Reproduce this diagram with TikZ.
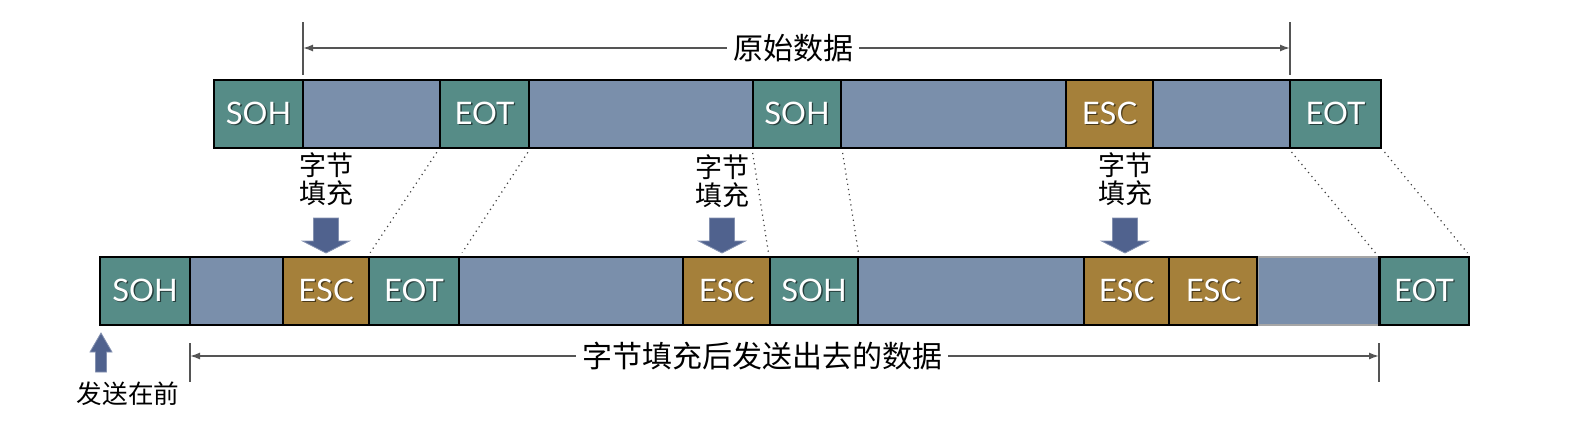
\documentclass[tikz,border=0pt]{standalone}
\usepackage{fontspec}
\setmainfont{Lato}
\newfontfamily\cjk{Noto Sans CJK SC}
\usetikzlibrary{arrows.meta}
\definecolor{cteal}{RGB}{86,140,135}
\definecolor{cdata}{RGB}{122,143,171}
\definecolor{cesc}{RGB}{165,128,58}
\definecolor{carrow}{RGB}{80,98,142}
\definecolor{cdim}{RGB}{85,85,85}
\newcommand\mycell[6]{% name, x1, x2, ycenter, colour, text
  \pgfmathsetmacro\cw{(#3-#2)*0.5}%
  \node[cellbase,fill=#5,minimum width=\cw pt] (#1) at ({(#2+#3)/2},#4)
    {\rlap{\kern0.7pt\raisebox{-0.7pt}{\color{black!55!#5}#6}}#6};}
\newcommand\mydown[2]{% x, name
  \coordinate (#2) at (#1,218);
  \fill[stuffarrow] ([xshift=-6.25pt]#2) -- ([xshift=6.25pt]#2)
    -- ([xshift=6.25pt,yshift=-11.5pt]#2) -- ([xshift=11.75pt,yshift=-11.5pt]#2)
    -- ([yshift=-17.5pt]#2) -- ([xshift=-11.75pt,yshift=-11.5pt]#2)
    -- ([xshift=-6.25pt,yshift=-11.5pt]#2) -- cycle;}
\begin{document}
\begin{tikzpicture}[x=0.5pt,y=-0.5pt,
 cellbase/.style={draw=black, line width=1pt, minimum height=34pt, inner sep=0pt,
   text=white, font=\fontsize{15.5}{17}\selectfont},
 dimline/.style={draw=cdim, line width=0.75pt},
 dimtick/.style={draw=cdim, line width=0.9pt},
 dimarrow/.style={dimline, -{Latex[length=5pt,width=3.5pt]}},
 guide/.style={draw=black!75, line width=0.6pt, dotted, shorten <=2pt, shorten >=2pt},
 lbl/.style={font=\cjk\fontsize{13.5}{14}\selectfont, inner sep=1pt, align=center},
 biglbl/.style={font=\cjk\fontsize{15}{17}\selectfont, fill=white, inner sep=3pt},
 stuffarrow/.style={fill=carrow, draw=carrow!70!white, line width=0.4pt}
]
\useasboundingbox (0,0) rectangle (1574,424);

% top row
\mycell{t1}{214}{303}{114}{cteal}{SOH}
\mycell{t2}{303}{440}{114}{cdata}{}
\mycell{t3}{440}{529}{114}{cteal}{EOT}
\mycell{t4}{529}{753}{114}{cdata}{}
\mycell{t5}{753}{841}{114}{cteal}{SOH}
\mycell{t6}{841}{1066}{114}{cdata}{}
\mycell{t7}{1066}{1153}{114}{cesc}{ESC}
\mycell{t8}{1153}{1290}{114}{cdata}{}
\mycell{t9}{1290}{1381}{114}{cteal}{EOT}

% bottom row
\mycell{b1}{100}{190}{291}{cteal}{SOH}
\mycell{b2}{190}{283}{291}{cdata}{}
\mycell{b3}{283}{369}{291}{cesc}{ESC}
\mycell{b4}{369}{459}{291}{cteal}{EOT}
\mycell{b5}{459}{683}{291}{cdata}{}
\mycell{b6}{683}{770}{291}{cesc}{ESC}
\mycell{b7}{770}{858}{291}{cteal}{SOH}
\mycell{b8}{858}{1084}{291}{cdata}{}
\mycell{b9}{1084}{1169}{291}{cesc}{ESC}
\mycell{b10}{1169}{1258}{291}{cesc}{ESC}
\pgfmathsetmacro\cw{(1379-1258)*0.5}
\node[cellbase,fill=cdata,draw=black!35,minimum width=\cw pt] (b11) at ({(1258+1379)/2},291) {};
\mycell{b12}{1379}{1469}{291}{cteal}{EOT}
\draw[line width=1pt] (b11.north east) -- (b11.south east);
\draw[line width=1pt] (b11.north west) -- (b11.south west);

% dotted guides
\draw[guide] (t3.south west) -- (b4.north west);
\draw[guide] (t3.south east) -- (b4.north east);
\draw[guide] (t5.south west) -- (b7.north west);
\draw[guide] (t5.south east) -- (b7.north east);
\draw[guide] (t9.south west) -- (b12.north west);
\draw[guide] (t9.south east) -- (b12.north east);

% top dimension
\coordinate (ta1) at (303,22); \coordinate (ta2) at (303,75);
\coordinate (tb1) at (1290,22); \coordinate (tb2) at (1290,75);
\coordinate (tl) at (303,48); \coordinate (tr) at (1290,48);
\draw[dimtick] (ta1) -- (ta2);
\draw[dimtick] (tb1) -- (tb2);
\node[biglbl] (toplbl) at (793,48) {原始数据};
\draw[dimarrow] (toplbl.west) -- (tl);
\draw[dimarrow] (toplbl.east) -- (tr);

% bottom dimension
\coordinate (ba1) at (190,343); \coordinate (ba2) at (190,382);
\coordinate (bb1) at (1379,343); \coordinate (bb2) at (1379,382);
\coordinate (bl) at (190,356); \coordinate (br) at (1379,356);
\draw[dimtick] (ba1) -- (ba2);
\draw[dimtick] (bb1) -- (bb2);
\node[biglbl] (botlbl) at (762,356) {字节填充后发送出去的数据};
\draw[dimarrow] (botlbl.west) -- (bl);
\draw[dimarrow] (botlbl.east) -- (br);

% stuffing labels and arrows
\node[lbl] (s1) at (326,179) {字节\\填充};
\node[lbl] (s2) at (722,181) {字节\\填充};
\node[lbl] (s3) at (1125,179) {字节\\填充};
\mydown{326}{a1}
\mydown{722}{a2}
\mydown{1125}{a3}

% send-first arrow
\coordinate (up) at (101,333);
\fill[stuffarrow] (up) -- ([xshift=5.5pt,yshift=-9.5pt]up) -- ([xshift=2.75pt,yshift=-9.5pt]up)
  -- ([xshift=2.75pt,yshift=-19.5pt]up) -- ([xshift=-2.75pt,yshift=-19.5pt]up)
  -- ([xshift=-2.75pt,yshift=-9.5pt]up) -- ([xshift=-5.5pt,yshift=-9.5pt]up) -- cycle;
\node[lbl, font=\cjk\fontsize{12.8}{14}\selectfont] (first) at (128,394) {发送在前};
\end{tikzpicture}
\end{document}
